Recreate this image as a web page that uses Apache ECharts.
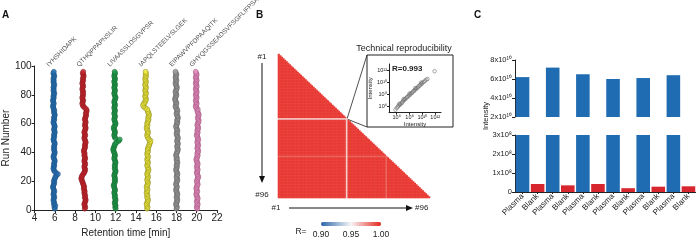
<!DOCTYPE html>
<html>
<head>
<meta charset="utf-8">
<script src="https://cdn.jsdelivr.net/npm/echarts@6/dist/echarts.min.js"></script>
<style>
html, body { margin: 0; padding: 0; background: #fff; }
#main { width: 696px; height: 243px; }
</style>
</head>
<body>
<div id="main"></div>
<script>
// ---- panel A: retention time per run ----
var peptides = ['IYHSHIDAPK', 'QTHQPPAPNSLIR', 'LIVAASSLDSGVPSR', 'IAPQLSTEELVSLGEK', 'EIPAWVPFDPAAQITK', 'GHYQGSSEADSVFSGFLIFPSA'];
var peptideLabelRT = [5.9, 8.85, 11.9, 15.0, 18.0, 20.0];

var rtIYHSHIDAPK = [6.0, 5.95, 6.05, 5.9, 5.95, 5.9, 5.85, 5.9, 5.95, 5.9,
  5.85, 5.9, 5.95, 5.9, 5.85, 5.8, 5.85, 5.9, 5.95, 5.9,
  5.95, 6.0, 6.05, 6.15, 6.3, 6.1, 5.95, 5.9, 5.85, 5.9,
  5.95, 5.9, 5.95, 6.0, 5.95, 5.9, 5.85, 5.9, 5.95, 6.0,
  5.95, 5.9, 5.95, 5.9, 5.95, 6.0, 5.95, 5.9, 5.85, 5.9,
  5.95, 5.9, 5.95, 6.0, 5.95, 5.9, 5.95, 6.0, 5.95, 5.9,
  5.85, 5.9, 5.95, 5.9, 5.95, 6.0, 5.95, 5.9, 5.95, 5.9,
  5.85, 5.8, 5.85, 5.9, 5.85, 5.8, 5.85, 5.9, 5.85, 5.9,
  5.95, 5.9, 5.85, 5.9, 5.85, 5.9, 5.95, 5.9, 5.85, 5.9,
  5.85, 5.9, 5.95, 5.9, 5.85, 5.9];
var rtQTHQPPAPNSLIR = [8.95, 9.0, 8.95, 8.9, 8.95, 9.0, 9.05, 9.0, 8.95, 9.0,
  8.95, 8.9, 8.95, 8.9, 8.85, 8.9, 8.85, 8.8, 8.75, 8.7,
  8.65, 8.6, 8.65, 8.7, 8.8, 8.9, 8.95, 9.0, 8.95, 8.9,
  8.95, 9.0, 8.95, 8.9, 8.95, 9.0, 8.95, 8.9, 8.95, 8.9,
  8.85, 8.9, 8.95, 9.0, 8.95, 9.0, 9.05, 9.0, 8.95, 8.9,
  8.95, 9.0, 8.95, 8.9, 8.95, 9.0, 9.05, 9.0, 8.95, 9.0,
  9.05, 9.0, 8.95, 9.0, 9.05, 9.1, 9.05, 9.1, 9.15, 9.1,
  8.95, 8.8, 8.75, 8.7, 8.75, 8.8, 8.75, 8.7, 8.75, 8.8,
  8.75, 8.8, 8.75, 8.7, 8.75, 8.8, 8.75, 8.7, 8.75, 8.8,
  8.75, 8.8, 8.85, 8.8, 8.75, 8.8];
var rtLIVAASSLDSGVPSR = [12.0, 11.95, 12.0, 11.95, 11.9, 11.95, 12.0, 11.95, 11.9, 11.95,
  11.9, 11.85, 11.9, 11.95, 11.9, 11.85, 11.8, 11.85, 11.9, 11.95,
  11.9, 11.95, 11.9, 11.85, 11.9, 11.95, 12.0, 11.95, 11.9, 11.95,
  11.9, 11.95, 12.0, 11.95, 11.9, 11.85, 11.9, 11.95, 11.9, 11.85,
  11.8, 11.75, 11.8, 11.85, 11.9, 11.95, 12.1, 12.3, 12.4, 11.95,
  11.9, 11.85, 11.9, 11.95, 11.9, 11.85, 11.8, 11.85, 11.95, 12.0,
  11.95, 11.9, 11.85, 11.9, 11.95, 11.9, 11.85, 11.9, 11.95, 11.9,
  11.85, 11.9, 11.95, 11.9, 11.85, 11.9, 11.95, 12.0, 11.95, 11.9,
  11.85, 11.9, 11.95, 11.9, 11.85, 11.9, 11.95, 11.9, 11.85, 11.9,
  11.95, 11.9, 11.85, 11.9, 11.95, 11.9];
var rtIAPQLSTEELVSLGEK = [15.1, 15.15, 15.1, 15.05, 15.1, 15.15, 15.2, 15.15, 15.1, 15.15,
  15.1, 15.05, 15.1, 15.15, 15.1, 15.05, 15.1, 15.15, 15.2, 15.15,
  15.1, 15.15, 15.2, 15.15, 15.1, 15.15, 15.2, 15.25, 15.2, 15.15,
  15.1, 15.15, 15.2, 15.15, 15.1, 15.15, 15.2, 15.15, 15.1, 15.15,
  15.2, 15.15, 15.2, 15.25, 15.3, 15.35, 15.4, 15.45, 15.3, 15.2,
  15.15, 15.1, 15.15, 15.2, 15.15, 15.1, 15.05, 15.1, 15.15, 15.1,
  15.15, 15.2, 15.25, 15.2, 15.25, 15.3, 15.25, 15.2, 15.15, 15.1,
  14.9, 14.75, 14.7, 14.8, 14.9, 14.95, 15.0, 14.95, 14.9, 14.95,
  15.0, 14.95, 14.9, 14.95, 15.0, 14.95, 14.9, 14.95, 15.0, 14.95,
  14.9, 14.95, 15.0, 14.95, 15.0, 14.95];
var rtEIPAWVPFDPAAQITK = [18.0, 18.05, 18.0, 17.95, 18.0, 18.05, 18.1, 18.05, 18.0, 18.05,
  18.1, 18.05, 18.0, 17.95, 18.0, 18.05, 18.0, 17.95, 18.0, 18.05,
  18.1, 18.05, 18.0, 18.05, 18.1, 18.05, 18.0, 17.95, 18.0, 18.05,
  18.0, 18.05, 18.1, 18.05, 18.0, 18.05, 18.0, 17.95, 18.0, 18.05,
  18.1, 18.15, 18.1, 18.05, 18.1, 18.15, 18.1, 18.05, 18.1, 18.15,
  18.1, 18.05, 18.0, 18.05, 18.1, 18.05, 18.0, 17.95, 18.0, 18.05,
  18.1, 18.05, 18.1, 18.15, 18.1, 18.05, 18.0, 18.05, 18.1, 18.05,
  17.95, 17.9, 17.95, 18.0, 17.95, 17.9, 17.85, 17.9, 17.95, 18.0,
  17.95, 17.9, 17.95, 18.0, 18.05, 18.0, 17.95, 17.9, 17.95, 18.0,
  17.95, 17.9, 17.95, 18.0, 17.95, 17.9];
var rtGHYQGSSEADSVFSGFLIFPSA = [20.05, 20.0, 20.05, 20.1, 20.05, 20.0, 20.05, 20.1, 20.05, 20.0,
  19.95, 20.0, 20.05, 20.0, 19.95, 20.0, 20.05, 20.1, 20.05, 20.0,
  20.05, 20.1, 20.15, 20.1, 20.05, 20.0, 20.05, 20.1, 20.05, 20.0,
  20.05, 20.1, 20.05, 20.0, 19.95, 20.0, 20.05, 20.1, 20.05, 20.1,
  20.15, 20.1, 20.05, 20.1, 20.15, 20.1, 20.05, 20.1, 20.15, 20.1,
  20.05, 20.0, 20.05, 20.1, 20.05, 20.1, 20.15, 20.1, 20.05, 20.1,
  20.15, 20.2, 20.15, 20.1, 20.15, 20.2, 20.15, 20.1, 20.05, 20.1,
  19.95, 19.9, 19.95, 20.0, 19.95, 19.9, 19.95, 20.0, 19.95, 19.9,
  19.95, 20.0, 19.95, 19.9, 19.95, 20.0, 19.95, 19.9, 19.95, 20.0,
  19.95, 19.9, 19.95, 20.0, 19.95, 19.9];

var peptideRT = [rtIYHSHIDAPK, rtQTHQPPAPNSLIR, rtLIVAASSLDSGVPSR, rtIAPQLSTEELVSLGEK, rtEIPAWVPFDPAAQITK, rtGHYQGSSEADSVFSGFLIFPSA];
var peptideFill = ['#2470b3', '#c8262d', '#1f9a4a', '#f1ec3c', '#9b9b9b', '#e48fbf'];
var peptideEdge = ['#1a4876', '#7c1519', '#105c2b', '#7f7a1c', '#555555', '#93466f'];

// ---- panel B: run-to-run correlation ----
var runCount = 96;
var heatBaseR = 0.995;
var heatLowRuns = [44, 69];
var heatLowR = [0.958, 0.986];

var insetX = [5.8, 6.0, 6.2, 6.3, 6.4, 6.5, 6.6, 6.8, 6.9, 7.0, 7.1, 7.2, 7.3, 7.5, 7.6, 7.8, 7.9, 8.0,
  8.1, 8.2, 8.4, 8.5, 8.7, 8.8, 8.9, 9.0, 9.1, 9.3, 9.4, 9.6, 9.7, 9.8, 9.9, 10.0, 10.2, 10.4, 10.6, 10.8, 11.9];
var insetY = [5.4, 5.7, 5.9, 6.1, 6.4, 6.2, 6.4, 6.5, 6.7, 6.9, 7.2, 7.0, 7.2, 7.3, 7.5, 7.6, 7.8, 8.1,
  7.9, 8.1, 8.2, 8.4, 8.5, 8.7, 9.0, 8.8, 9.0, 9.1, 9.3, 9.4, 9.6, 9.9, 9.7, 9.9, 10.0, 10.2, 10.4, 10.5, 11.8];

// ---- panel C: plasma vs blank intensity ----
var sampleLabels = ['Plasma', 'Blank', 'Plasma', 'Blank', 'Plasma', 'Blank', 'Plasma', 'Blank', 'Plasma', 'Blank', 'Plasma', 'Blank'];
var plasmaIntensity = [6.2e10, 7.2e10, 6.5e10, 6.0e10, 6.1e10, 6.4e10];
var blankIntensity = [4.2e7, 3.5e7, 4.2e7, 2.0e7, 2.8e7, 3.0e7];

var FONT = 'Liberation Sans, Arial, sans-serif';
var TXT = '#222';

var runNumbers = [];
var runLabels = [];
for (var r = 1; r <= runCount; r++) { runNumbers.push(r); runLabels.push('#' + r); }

var heatData = [];
for (var i = 0; i < runCount; i++) {
    for (var j = 0; j <= i; j++) {
        var v = heatBaseR;
        var a = heatLowRuns.indexOf(i + 1), b = heatLowRuns.indexOf(j + 1);
        if (a >= 0) v = Math.min(v, heatLowR[a]);
        if (b >= 0) v = Math.min(v, heatLowR[b]);
        heatData.push([j, i, v]);
    }
}

var plasmaData = [], blankData = [];
for (var k = 0; k < plasmaIntensity.length; k++) {
    plasmaData.push(plasmaIntensity[k], '-');
    blankData.push('-', blankIntensity[k]);
}

var sup = { '0': '\u2070', '1': '\u00b9', '2': '\u00b2', '6': '\u2076', '8': '\u2078' };
function pow10(n) {
    return '10' + String(n).split('').map(function (c) { return sup[c]; }).join('');
}

var series = [];
peptides.forEach(function (name, p) {
    series.push({
        name: name,
        type: 'scatter',
        xAxisIndex: 0, yAxisIndex: 0,
        symbolSize: 5,
        itemStyle: { color: peptideFill[p], borderColor: peptideEdge[p], borderWidth: 0.6 },
        data: peptideRT[p].map(function (t, n) { return [t, runNumbers[n]]; })
    });
});
series.push({
    type: 'scatter',
    xAxisIndex: 0, yAxisIndex: 0,
    symbolSize: 0,
    clip: false,
    silent: true,
    data: peptides.map(function (name, p) { return [peptideLabelRT[p], 100, name]; }),
    label: {
        show: true,
        position: 'inside',
        rotate: 45,
        align: 'left',
        verticalAlign: 'bottom',
        offset: [-4, -1],
        fontSize: 6.5,
        fontFamily: FONT,
        color: TXT,
        formatter: function (prm) { return prm.data[2]; }
    }
});
series.push({
    type: 'heatmap',
    xAxisIndex: 1, yAxisIndex: 1,
    data: heatData,
    progressive: 0,
    itemStyle: { borderWidth: 0 }
});
series.push({
    type: 'scatter',
    xAxisIndex: 2, yAxisIndex: 2,
    symbolSize: 3.5,
    itemStyle: { color: 'rgba(255,255,255,0)', borderColor: '#666', borderWidth: 0.7 },
    data: insetX.map(function (x, n) { return [x, insetY[n]]; })
});
[4, 5].forEach(function (ax) {
    series.push({
        name: 'Plasma', type: 'bar', xAxisIndex: ax, yAxisIndex: ax,
        barGap: '-100%', barCategoryGap: '10%', clip: true,
        itemStyle: { color: '#1f6cb3' }, data: plasmaData
    });
    series.push({
        name: 'Blank', type: 'bar', xAxisIndex: ax, yAxisIndex: ax,
        barGap: '-100%', barCategoryGap: '10%', clip: true,
        itemStyle: { color: '#d7262d' }, data: blankData
    });
});

var axisLine = { show: true, lineStyle: { color: '#222', width: 1 } };
var hidden = { show: false };

var myChart = echarts.init(document.getElementById('main'));
myChart.setOption({
    animation: false,
    textStyle: { fontFamily: FONT },
    grid: [
        { left: 26, top: 66, width: 191, height: 152 },
        { left: 278, top: 54, width: 152, height: 144 },
        { left: 389, top: 64, width: 52, height: 48.7 },
        { left: 321, top: 222, width: 60, height: 4 },
        { left: 515, top: 60, width: 182, height: 57 },
        { left: 515, top: 135, width: 182, height: 57 }
    ],
    xAxis: [
        {
            gridIndex: 0, type: 'value', min: 4, max: 22, interval: 2,
            name: 'Retention time [min]', nameLocation: 'middle', nameGap: 16,
            nameTextStyle: { fontSize: 10, color: TXT },
            axisLine: axisLine, axisTick: { show: true, length: 3, lineStyle: { color: '#222' } },
            axisLabel: { fontSize: 10, color: TXT, margin: 3 },
            splitLine: hidden
        },
        { gridIndex: 1, type: 'category', data: runLabels, show: false },
        {
            gridIndex: 2, type: 'value', min: 4.8, max: 12.9,
            name: 'Intensity', nameLocation: 'middle', nameGap: 9,
            nameTextStyle: { fontSize: 6, color: TXT },
            axisLine: axisLine,
            axisTick: { show: true, length: 2, customValues: [6, 8, 10, 12], lineStyle: { color: '#222' } },
            axisLabel: { fontSize: 5.5, color: TXT, margin: 2, customValues: [6, 8, 10, 12], formatter: function (v) { return pow10(v); } },
            splitLine: hidden
        },
        {
            gridIndex: 3, type: 'value', min: 0.9, max: 1.0, interval: 0.05,
            axisLine: hidden, axisTick: hidden, splitLine: hidden,
            axisLabel: { fontSize: 8.5, color: TXT, margin: 4, formatter: function (v) { return v.toFixed(2); } }
        },
        {
            gridIndex: 4, type: 'category', data: sampleLabels,
            axisLine: hidden, axisTick: hidden, axisLabel: hidden
        },
        {
            gridIndex: 5, type: 'category', data: sampleLabels,
            axisLine: axisLine,
            axisTick: { show: true, alignWithLabel: true, length: 2, lineStyle: { color: '#222' } },
            axisLabel: { rotate: 45, fontSize: 8, color: TXT, margin: 3, interval: 0 }
        }
    ],
    yAxis: [
        {
            gridIndex: 0, type: 'value', min: 0, max: 100, interval: 20,
            name: 'Run Number', nameLocation: 'middle', nameGap: 19,
            nameTextStyle: { fontSize: 10, color: TXT },
            axisLine: axisLine, axisTick: { show: true, length: 3, lineStyle: { color: '#222' } },
            axisLabel: { fontSize: 10, color: TXT, margin: 3 },
            splitLine: hidden
        },
        { gridIndex: 1, type: 'category', data: runLabels, inverse: true, show: false },
        {
            gridIndex: 2, type: 'value', min: 4.9, max: 13,
            name: 'Intensity', nameLocation: 'middle', nameGap: 13,
            nameTextStyle: { fontSize: 6, color: TXT },
            axisLine: axisLine,
            axisTick: { show: true, length: 2, customValues: [6, 8, 10, 12], lineStyle: { color: '#222' } },
            axisLabel: { fontSize: 5.5, color: TXT, margin: 2, customValues: [6, 8, 10, 12], formatter: function (v) { return pow10(v); } },
            splitLine: hidden
        },
        { gridIndex: 3, type: 'value', show: false },
        {
            gridIndex: 4, type: 'value', min: 2e10, max: 8e10, interval: 2e10,
            axisLine: axisLine, axisTick: { show: true, length: 3, lineStyle: { color: '#222' } },
            axisLabel: { fontSize: 7.5, color: TXT, margin: 3, formatter: function (v) { return (v / 1e10) + 'x' + pow10(10); } },
            splitLine: hidden
        },
        {
            gridIndex: 5, type: 'value', min: 0, max: 3e8, interval: 1e8,
            axisLine: axisLine, axisTick: { show: true, length: 3, lineStyle: { color: '#222' } },
            axisLabel: { fontSize: 7.5, color: TXT, margin: 3, formatter: function (v) { return v === 0 ? '0' : (v / 1e8) + 'x' + pow10(8); } },
            splitLine: hidden
        }
    ],
    visualMap: {
        type: 'continuous',
        seriesIndex: 7,
        min: 0.9, max: 1.0,
        orient: 'horizontal',
        left: 321, top: 222,
        padding: 0,
        itemWidth: 4, itemHeight: 60,
        calculable: false,
        hoverLink: false,
        inRange: { color: ['#2b67a8', '#f6f6f6', '#e6261f'] }
    },
    graphic: [
        { type: 'text', left: 2, top: 10, style: { text: 'A', font: 'bold 10px ' + FONT, fill: '#111' } },
        { type: 'text', left: 256, top: 10, style: { text: 'B', font: 'bold 10px ' + FONT, fill: '#111' } },
        { type: 'text', left: 474, top: 10, style: { text: 'C', font: 'bold 10px ' + FONT, fill: '#111' } },
        // run arrows
        { type: 'text', x: 262, y: 57, style: { text: '#1', font: '8px ' + FONT, fill: TXT, align: 'center', verticalAlign: 'middle' } },
        { type: 'line', shape: { x1: 262, y1: 63, x2: 262, y2: 177 }, style: { stroke: '#111', lineWidth: 1 } },
        { type: 'polygon', shape: { points: [[259, 176], [265, 176], [262, 183]] }, style: { fill: '#111' } },
        { type: 'text', x: 262, y: 195, style: { text: '#96', font: '8px ' + FONT, fill: TXT, align: 'center', verticalAlign: 'middle' } },
        { type: 'text', x: 276, y: 208, style: { text: '#1', font: '8px ' + FONT, fill: TXT, align: 'center', verticalAlign: 'middle' } },
        { type: 'line', shape: { x1: 289, y1: 208, x2: 407, y2: 208 }, style: { stroke: '#111', lineWidth: 1 } },
        { type: 'polygon', shape: { points: [[406, 205], [406, 211], [413, 208]] }, style: { fill: '#111' } },
        { type: 'text', x: 415, y: 208, style: { text: '#96', font: '8px ' + FONT, fill: TXT, align: 'left', verticalAlign: 'middle' } },
        // inset
        { type: 'line', shape: { x1: 347, y1: 119, x2: 367, y2: 55 }, style: { stroke: '#222', lineWidth: 0.8 } },
        { type: 'line', shape: { x1: 347, y1: 119, x2: 367, y2: 127 }, style: { stroke: '#222', lineWidth: 0.8 } },
        { type: 'rect', shape: { x: 367, y: 55, width: 86, height: 72 }, style: { fill: 'none', stroke: '#222', lineWidth: 1 } },
        { type: 'text', x: 404, y: 49, style: { text: 'Technical reproducibility', font: '9px ' + FONT, fill: TXT, align: 'center', verticalAlign: 'middle' } },
        { type: 'text', x: 392, y: 69, style: { text: 'R=0.993', font: 'bold 8px ' + FONT, fill: TXT, align: 'left', verticalAlign: 'middle' } },
        // colorbar label
        { type: 'text', x: 301, y: 232, style: { text: 'R=', font: '8.5px ' + FONT, fill: TXT, align: 'center', verticalAlign: 'middle' } },
        // panel C axis name
        { type: 'text', x: 486, y: 116, rotation: Math.PI / 2, style: { text: 'Intensity', font: '7.5px ' + FONT, fill: TXT, align: 'center', verticalAlign: 'middle' } }
    ],
    series: series
});
</script>
</body>
</html>
